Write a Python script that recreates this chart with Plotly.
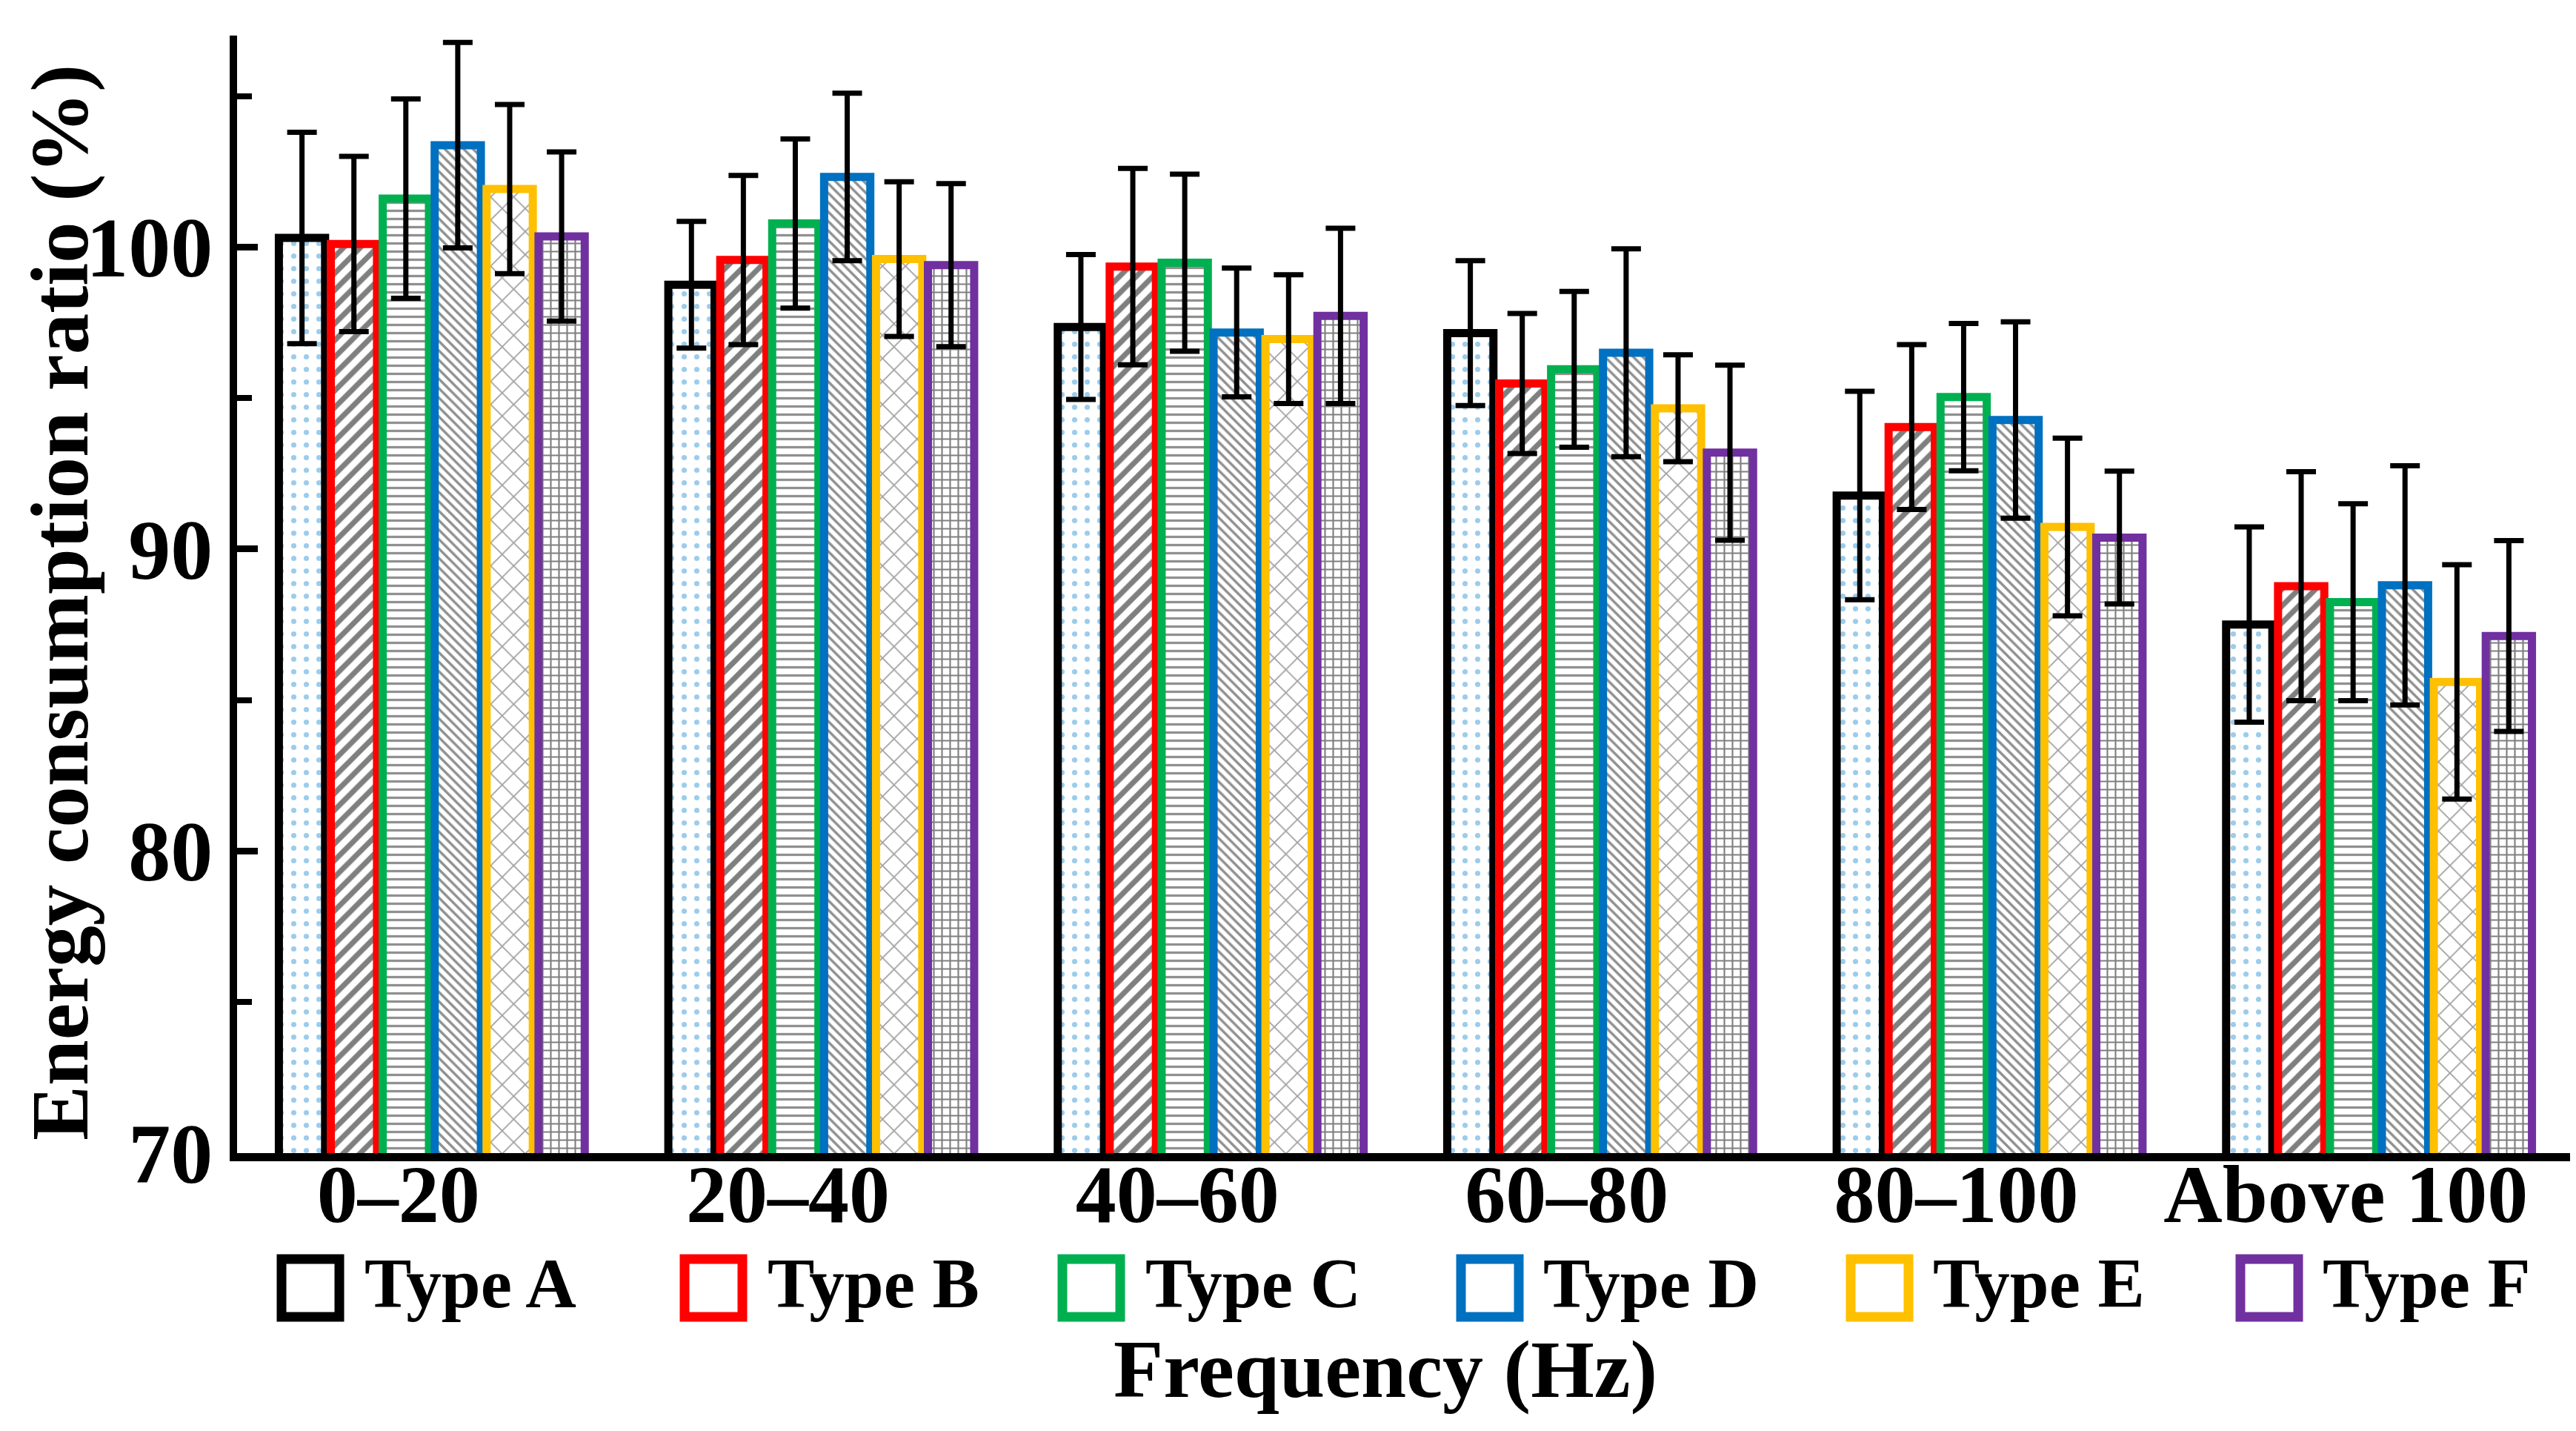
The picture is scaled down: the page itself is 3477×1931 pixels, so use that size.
import plotly.graph_objects as go

categories = ["0–20", "20–40", "40–60", "60–80", "80–100", "Above 100"]
series_names = ["Type A", "Type B", "Type C", "Type D", "Type E", "Type F"]

type_a = [100.3, 98.75, 97.35, 97.15, 91.77, 87.50]
type_b = [100.1, 99.57, 99.35, 95.48, 94.04, 88.77]
type_c = [101.6, 100.78, 99.48, 95.95, 95.03, 88.24]
type_d = [103.37, 102.32, 97.17, 96.50, 94.27, 88.80]
type_e = [101.92, 99.60, 96.95, 94.66, 90.73, 85.60]
type_f = [100.35, 99.40, 97.72, 93.19, 90.38, 87.12]

err_a = [3.5, 2.1, 2.4, 2.4, 3.45, 3.23]
err_b = [2.9, 2.8, 3.25, 2.32, 2.73, 3.79]
err_c = [3.3, 2.8, 2.93, 2.58, 2.44, 3.26]
err_d = [3.4, 2.77, 2.13, 3.44, 3.25, 3.96]
err_e = [2.8, 2.56, 2.13, 1.77, 2.94, 3.88]
err_f = [2.8, 2.7, 2.9, 2.9, 2.2, 3.16]

y_ticks = [70, 80, 90, 100]

values = [type_a, type_b, type_c, type_d, type_e, type_f]
errors = [err_a, err_b, err_c, err_d, err_e, err_f]

edge_colors = ["#000000", "#ff0000", "#00b050", "#0070c0", "#ffc000", "#7030a0"]
patterns = [
    dict(shape=".", fgcolor="#3a9ad9", bgcolor="white", size=17, solidity=0.14),
    dict(shape="/", fgcolor="black", bgcolor="white", size=16, solidity=0.45),
    dict(shape="-", fgcolor="#222222", bgcolor="white", size=11, solidity=0.3),
    dict(shape="\\", fgcolor="#222222", bgcolor="white", size=9, solidity=0.38),
    dict(shape="x", fgcolor="#444444", bgcolor="white", size=22, solidity=0.16),
    dict(shape="+", fgcolor="black", bgcolor="white", size=11, solidity=0.35),
]

FONT = "Liberation Serif"
W, H = 3477, 1931
ML, MR, MT, MB = 312, 11, 40, 383
PW, PH = W - ML - MR, H - MT - MB

fig = go.Figure()
for name, vals, errs, col, pat in zip(series_names, values, errors, edge_colors, patterns):
    fig.add_trace(go.Bar(
        name=name, x=categories, y=vals,
        marker=dict(color="white", line=dict(color=col, width=11), pattern=pat),
        error_y=dict(type="data", array=errs, visible=True, color="black",
                     thickness=7, width=20),
        showlegend=False,
    ))

# custom legend (layout positions in pixels)
leg_cx = [411, 955, 1465, 2003, 2529, 3055]
leg_tx = [482, 1026, 1536, 2073, 2599, 3125]
leg_cy = 1730
half = 39

def px2x(xr):
    return (xr - ML) / PW

def px2y(yr):
    return (H - MB - yr) / PH

shapes = []
annotations = []
for cx, tx, col, name in zip(leg_cx, leg_tx, edge_colors, series_names):
    shapes.append(dict(type="rect", xref="paper", yref="paper",
                       x0=px2x(cx - half), x1=px2x(cx + half),
                       y0=px2y(leg_cy + half), y1=px2y(leg_cy - half),
                       line=dict(color=col, width=13), fillcolor="white"))
    annotations.append(dict(xref="paper", yref="paper", x=px2x(tx), y=px2y(leg_cy - 6),
                            xanchor="left", yanchor="middle", showarrow=False,
                            text="<b>%s</b>" % name,
                            font=dict(family=FONT, size=95, color="black")))

annotations.append(dict(xref="paper", yref="paper", x=px2x(1862), y=px2y(1840),
                        xanchor="center", yanchor="middle", showarrow=False,
                        text="<b>Frequency (Hz)</b>",
                        font=dict(family=FONT, size=110, color="black")))
annotations.append(dict(xref="paper", yref="paper", x=px2x(72), y=px2y(805),
                        xanchor="center", yanchor="middle", showarrow=False,
                        textangle=-90,
                        text="<b>Energy consumption ratio (%)</b>",
                        font=dict(family=FONT, size=111, color="black")))

fig.update_layout(
    width=W, height=H, autosize=False,
    margin=dict(l=ML, r=MR, t=MT, b=MB),
    paper_bgcolor="white", plot_bgcolor="white",
    barmode="group", bargap=0.2, bargroupgap=0.11,
    shapes=shapes, annotations=annotations,
    xaxis=dict(showline=True, linecolor="black", linewidth=11, ticks="",
               showgrid=False, zeroline=False, ticklabelstandoff=-50,
               ticklabelshift=-45,
               tickfont=dict(family=FONT, size=110, color="black", weight="bold")),
    yaxis=dict(range=[70, 107], showline=True, linecolor="black", linewidth=10,
               tickmode="array", tickvals=y_ticks, ticktext=[str(v) for v in y_ticks],
               ticks="inside", ticklen=28, tickwidth=9, tickcolor="black",
               minor=dict(ticks="inside", ticklen=20, tickwidth=8, tickcolor="black",
                          dtick=5, tick0=70),
               showgrid=False, zeroline=False,
               tickfont=dict(family=FONT, size=114, color="black", weight="bold")),
)

fig.write_html("out.html")
